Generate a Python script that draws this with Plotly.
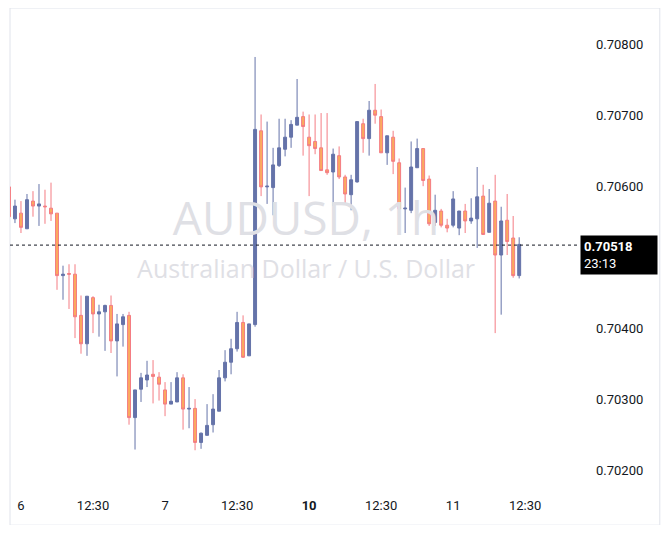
import plotly.graph_objects as go

# hourly AUDUSD candles
opens = [0.70600, 0.70555, 0.70563, 0.70541, 0.70580, 0.70573, 0.70573, 0.70570, 0.70563, 0.70475,
         0.70478, 0.70477, 0.70419, 0.70379, 0.70444, 0.70421, 0.70424, 0.70433, 0.70383, 0.70406,
         0.70419, 0.70275, 0.70315, 0.70328, 0.70336, 0.70332, 0.70314, 0.70294, 0.70297, 0.70331,
         0.70287, 0.70288, 0.70240, 0.70250, 0.70265, 0.70284, 0.70331, 0.70353, 0.70372, 0.70409,
         0.70362, 0.70406, 0.70679, 0.70600, 0.70599, 0.70630, 0.70653, 0.70670, 0.70687, 0.70699,
         0.70670, 0.70664, 0.70655, 0.70624, 0.70621, 0.70644, 0.70614, 0.70589, 0.70607, 0.70689,
         0.70668, 0.70708, 0.70699, 0.70648, 0.70670, 0.70634, 0.70569, 0.70567, 0.70627, 0.70654,
         0.70611, 0.70550, 0.70566, 0.70546, 0.70546, 0.70542, 0.70566, 0.70552, 0.70555, 0.70587,
         0.70536, 0.70580, 0.70504, 0.70553, 0.70528, 0.70475]
highs = [0.70607, 0.70582, 0.70580, 0.70590, 0.70594, 0.70604, 0.70596, 0.70606, 0.70563, 0.70489,
         0.70491, 0.70491, 0.70447, 0.70446, 0.70446, 0.70434, 0.70434, 0.70447, 0.70421, 0.70421,
         0.70424, 0.70314, 0.70338, 0.70355, 0.70356, 0.70339, 0.70325, 0.70325, 0.70339, 0.70336,
         0.70318, 0.70301, 0.70254, 0.70294, 0.70308, 0.70342, 0.70370, 0.70386, 0.70424, 0.70419,
         0.70407, 0.70783, 0.70702, 0.70692, 0.70655, 0.70696, 0.70696, 0.70694, 0.70752, 0.70706,
         0.70702, 0.70702, 0.70704, 0.70704, 0.70654, 0.70657, 0.70617, 0.70617, 0.70692, 0.70696,
         0.70721, 0.70745, 0.70709, 0.70672, 0.70679, 0.70640, 0.70599, 0.70664, 0.70668, 0.70654,
         0.70616, 0.70589, 0.70569, 0.70555, 0.70594, 0.70566, 0.70576, 0.70584, 0.70628, 0.70603,
         0.70597, 0.70617, 0.70572, 0.70590, 0.70559, 0.70529]
lows = [0.70553, 0.70549, 0.70535, 0.70541, 0.70558, 0.70545, 0.70548, 0.70552, 0.70455, 0.70441,
        0.70428, 0.70387, 0.70365, 0.70362, 0.70394, 0.70389, 0.70369, 0.70366, 0.70333, 0.70375,
        0.70265, 0.70230, 0.70297, 0.70318, 0.70295, 0.70299, 0.70277, 0.70294, 0.70297, 0.70258,
        0.70260, 0.70229, 0.70231, 0.70250, 0.70254, 0.70284, 0.70326, 0.70336, 0.70368, 0.70359,
        0.70362, 0.70403, 0.70587, 0.70576, 0.70560, 0.70628, 0.70643, 0.70655, 0.70687, 0.70644,
        0.70587, 0.70646, 0.70623, 0.70617, 0.70573, 0.70611, 0.70577, 0.70567, 0.70606, 0.70648,
        0.70644, 0.70689, 0.70648, 0.70631, 0.70618, 0.70559, 0.70535, 0.70563, 0.70627, 0.70601,
        0.70545, 0.70545, 0.70543, 0.70536, 0.70543, 0.70532, 0.70535, 0.70548, 0.70514, 0.70533,
        0.70536, 0.70394, 0.70420, 0.70504, 0.70472, 0.70471]
closes = [0.70558, 0.70573, 0.70543, 0.70582, 0.70573, 0.70576, 0.70572, 0.70562, 0.70475, 0.70477,
          0.70477, 0.70417, 0.70379, 0.70446, 0.70421, 0.70424, 0.70433, 0.70383, 0.70407, 0.70417,
          0.70275, 0.70314, 0.70331, 0.70335, 0.70333, 0.70322, 0.70294, 0.70298, 0.70331, 0.70287,
          0.70288, 0.70240, 0.70253, 0.70264, 0.70287, 0.70331, 0.70353, 0.70372, 0.70409, 0.70360,
          0.70407, 0.70681, 0.70600, 0.70601, 0.70631, 0.70655, 0.70670, 0.70688, 0.70698, 0.70685,
          0.70658, 0.70654, 0.70623, 0.70620, 0.70646, 0.70614, 0.70590, 0.70610, 0.70692, 0.70668,
          0.70708, 0.70701, 0.70648, 0.70672, 0.70636, 0.70569, 0.70570, 0.70628, 0.70654, 0.70609,
          0.70548, 0.70567, 0.70546, 0.70542, 0.70583, 0.70566, 0.70552, 0.70556, 0.70586, 0.70533,
          0.70577, 0.70504, 0.70552, 0.70523, 0.70475, 0.70519]

tick_pos = [2, 14, 26, 38, 50, 62, 74, 86]
tick_labels = ["6", "12:30", "7", "12:30", "<b>10</b>", "12:30", "11", "12:30"]
price_ticks = [0.702, 0.703, 0.704, 0.705, 0.706, 0.707, 0.708]
last_price = 0.70518
countdown = "23:13"

idx = list(range(len(opens)))

fig = go.Figure()

# watermark behind candles
fig.add_trace(go.Scatter(
    x=[49.5, 49.5], y=[0.70549, 0.70481], mode="text",
    text=["AUDUSD, 1h", "Australian Dollar / U.S. Dollar"],
    textfont=dict(size=[46, 25], color="#dfe0e5", family="Open Sans"),
    hoverinfo="skip", showlegend=False
))

fig.add_trace(go.Candlestick(
    x=idx, open=opens, high=highs, low=lows, close=closes,
    increasing=dict(line=dict(color="#6573a9", width=1), fillcolor="#6573a9"),
    decreasing=dict(line=dict(color="#f47c83", width=1), fillcolor="#fbaa5e"),
    whiskerwidth=0, showlegend=False
))

fig.add_hline(y=last_price, line=dict(color="#131722", width=1, dash="dot"))

fig.add_shape(type="rect", xref="paper", yref="paper", x0=0, x1=1.144, y0=-0.073, y1=1.0,
              line=dict(color="#e0e3eb", width=1), layer="below")

# last price label
fig.add_annotation(xref="paper", yref="y", x=1.004, y=last_price, xanchor="left", yanchor="middle",
                   text=f"<b>{last_price:.5f}</b><br>{countdown}", showarrow=False, bgcolor="#000000",
                   font=dict(color="white", size=13, family="Roboto"), width=70, align="left",
                   borderpad=3, yshift=-10)

fig.update_layout(
    width=654, height=517,
    margin=dict(l=2, r=84, t=0, b=35, autoexpand=False),
    plot_bgcolor="white", paper_bgcolor="white",
    font=dict(family="Roboto", size=13, color="#131722"),
    xaxis=dict(range=[0.17, 94.8], rangeslider=dict(visible=False), showgrid=False, zeroline=False,
               tickvals=tick_pos, ticktext=tick_labels, ticks="", showline=False, automargin=False,
               ticklabelstandoff=6),
    yaxis=dict(side="right", range=[0.70173, 0.70852], tickvals=price_ticks, tickformat=".5f",
               showgrid=False, zeroline=False, ticks="", showline=False, ticklabelstandoff=17,
               automargin=False),
)

fig.write_html("out.html")
